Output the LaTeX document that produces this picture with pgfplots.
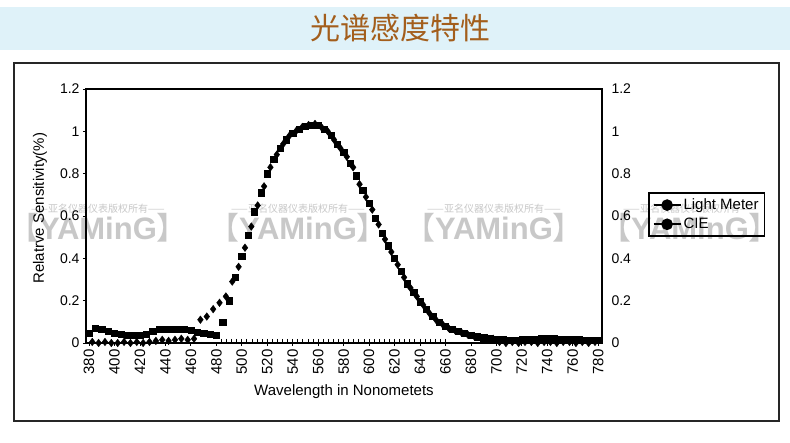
\documentclass[border=0pt]{standalone}
\usepackage{pgfplots}
\pgfplotsset{compat=1.18}
\usepackage{fontspec}
\setmainfont{Liberation Sans}
\newfontfamily\cjk{Noto Sans CJK SC}
\definecolor{banner}{RGB}{223,242,249}
\definecolor{titlebrown}{RGB}{163,94,28}
\definecolor{wm}{RGB}{200,200,200}

\pgfplotstableread{
x y
380 0.045
385 0.07
390 0.065
395 0.055
400 0.045
405 0.04
410 0.035
415 0.035
420 0.035
425 0.04
430 0.055
435 0.065
440 0.065
445 0.065
450 0.065
455 0.065
460 0.06
465 0.05
470 0.045
475 0.04
480 0.035
485 0.10
490 0.20
495 0.31
500 0.41
505 0.51
510 0.62
515 0.71
520 0.80
525 0.87
530 0.92
535 0.96
540 0.99
545 1.01
550 1.025
555 1.03
560 1.03
565 1.01
570 0.98
575 0.94
580 0.90
585 0.85
590 0.79
595 0.72
600 0.66
605 0.59
610 0.52
615 0.46
620 0.40
625 0.34
630 0.28
635 0.24
640 0.195
645 0.16
650 0.125
655 0.10
660 0.08
665 0.065
670 0.055
675 0.045
680 0.037
685 0.03
690 0.025
695 0.02
700 0.018
705 0.016
710 0.015
715 0.015
720 0.016
725 0.017
730 0.018
735 0.02
740 0.02
745 0.02
750 0.018
755 0.017
760 0.018
765 0.016
770 0.015
775 0.015
780 0.015
}\lightmeter

\pgfplotstableread{
x y
382.5 0.005
387.5 0.0
392.5 0.005
397.5 0.0
402.5 0.0
407.5 0.005
412.5 0.0
417.5 0.005
422.5 0.0
427.5 0.005
432.5 0.01
437.5 0.015
442.5 0.01
447.5 0.015
452.5 0.02
457.5 0.015
462.5 0.02
467.5 0.11
472.5 0.125
477.5 0.16
482.5 0.19
487.5 0.22
492.5 0.29
497.5 0.36
502.5 0.45
507.5 0.55
512.5 0.65
517.5 0.74
522.5 0.83
527.5 0.89
532.5 0.94
537.5 0.98
542.5 1.00
547.5 1.02
552.5 1.03
557.5 1.035
562.5 1.02
567.5 1.00
572.5 0.96
577.5 0.92
582.5 0.88
587.5 0.83
592.5 0.75
597.5 0.69
602.5 0.63
607.5 0.56
612.5 0.49
617.5 0.43
622.5 0.37
627.5 0.31
632.5 0.26
637.5 0.22
642.5 0.18
647.5 0.14
652.5 0.11
657.5 0.09
662.5 0.07
667.5 0.06
672.5 0.05
677.5 0.04
682.5 0.033
687.5 0.027
692.5 0.023
697.5 0.02
702.5 0.005
707.5 0.0
712.5 0.005
717.5 0.0
722.5 0.005
727.5 0.005
732.5 0.0
737.5 0.005
742.5 0.005
747.5 0.0
752.5 0.005
757.5 0.005
762.5 0.0
767.5 0.005
772.5 0.0
777.5 0.005
}\cie

\pgfplotstableread{
x y
484 0.008
488 0.008
492 0.008
496 0.008
500 0.008
504 0.008
508 0.008
512 0.008
516 0.008
520 0.008
524 0.008
528 0.008
532 0.008
536 0.008
540 0.008
544 0.008
548 0.008
552 0.008
556 0.008
560 0.008
564 0.008
568 0.008
572 0.008
576 0.008
580 0.008
584 0.008
588 0.008
592 0.008
596 0.008
600 0.008
604 0.008
608 0.008
612 0.008
616 0.008
620 0.008
624 0.008
628 0.008
632 0.008
636 0.008
640 0.008
644 0.008
648 0.008
652 0.008
656 0.008
660 0.008
}\baseline

\begin{document}
\begin{tikzpicture}
\useasboundingbox (0pt,0pt) rectangle (790pt,443pt);
\fill[white] (0pt,0pt) rectangle (790pt,443pt);
\fill[banner] (0pt,393pt) rectangle (790pt,436pt);
\node[font=\cjk\fontsize{30}{36}\selectfont, text=titlebrown] at (400pt,415pt) {光谱感度特性};
\draw[line width=2pt, black!85] (14pt,22pt) rectangle (779pt,380pt);
% watermark
\foreach \cx in {98,298,494,690} {
  \node[text=wm, inner sep=0pt, font=\fontsize{31}{34}\selectfont] at (\cx pt,215pt) {{\cjk 【}{\bfseries YAMinG}{\cjk 】}};
  \node[text=wm, inner sep=0pt, font=\cjk\fontsize{10}{12}\selectfont] at (\cx pt,234pt) {——亚名仪器仪表版权所有——};
}

\begin{axis}[
  at={(86pt,100pt)}, anchor=south west,
  scale only axis, width=516pt, height=254pt,
  xmin=377.6, xmax=783, ymin=0, ymax=1.2,
  xtick={380,400,...,780},
  ytick={0,0.2,0.4,0.6,0.8,1,1.2},
  clip=false,
  axis line style={line width=1.6pt},
  tick style={line width=0.8pt, black},
  tick align=outside, major tick length=3pt,
  xtick pos=left, ytick pos=left,
  xticklabel style={rotate=90, anchor=east, font=\fontsize{15}{17}\selectfont},
  yticklabel style={font=\fontsize{14}{16}\selectfont},
  /pgf/number format/assume math mode=true,
  xlabel={Wavelength in Nonometets},
  ylabel={Relatrve Sensitivity(\%)},
  x label style={at={(axis description cs:0.5,-0.19)}, anchor=center, font=\fontsize{15}{18}\selectfont},
  y label style={at={(axis description cs:-0.089,0.531)}, anchor=center, font=\fontsize{15}{18}\selectfont},
  legend style={at={(rel axis cs:1.089,0.594)}, anchor=north west, draw=black, line width=1.6pt, fill=none, font=\fontsize{15}{17}\selectfont, inner xsep=4pt, inner ysep=4pt, row sep=3pt},
  legend cell align=left,
]
\addplot[only marks, mark=square*, mark size=3.1pt, black,
  legend image code/.code={\draw[line width=1.8pt,black] (0pt,0pt) -- (27pt,0pt); \fill[black] (13.5pt,0pt) circle (5pt);}] table[x=x,y=y] {\lightmeter};
\addlegendentry{Light Meter}
\addplot[only marks, mark=diamond*, mark size=3.8pt, black,
  legend image code/.code={\draw[line width=1.8pt,black] (0pt,0pt) -- (27pt,0pt); \fill[black] (13.5pt,0pt) circle (5pt);}] table[x=x,y=y] {\cie};
\addlegendentry{CIE}
\addplot[only marks, mark=|, mark size=2.5pt, black, line width=0.8pt, forget plot] table[x=x,y=y] {\baseline};
\end{axis}

\begin{axis}[
  at={(86pt,100pt)}, anchor=south west,
  scale only axis, width=516pt, height=254pt,
  xmin=377.6, xmax=783, ymin=0, ymax=1.2,
  axis x line=none, axis y line*=right,
  axis line style={line width=1.6pt},
  ytick={0,0.2,0.4,0.6,0.8,1,1.2},
  major tick length=0pt,
  yticklabel style={font=\fontsize{14}{16}\selectfont, xshift=6pt},
  /pgf/number format/assume math mode=true,
]
\addplot[draw=none] coordinates {(380,0)};
\end{axis}
\end{tikzpicture}
\end{document}
